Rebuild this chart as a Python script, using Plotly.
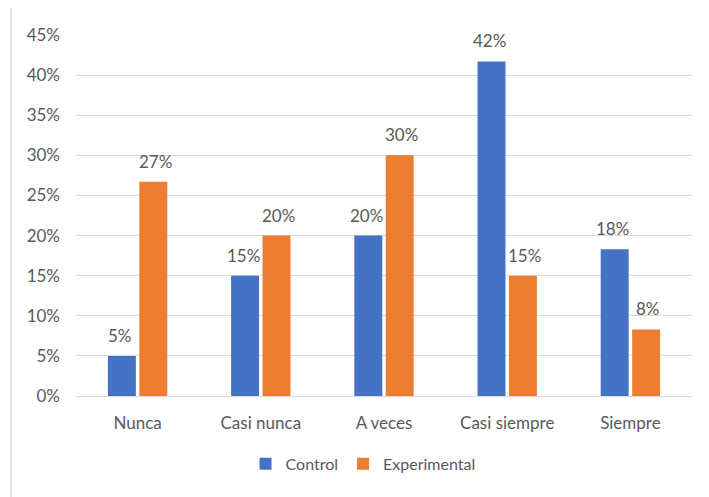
import plotly.graph_objects as go

categories = ["Nunca", "Casi nunca", "A veces", "Casi siempre", "Siempre"]
control = [0.05, 0.15, 0.20, 0.417, 0.183]
experimental = [0.267, 0.20, 0.30, 0.15, 0.083]
series_names = ["Control", "Experimental"]
colors = ["#4472C4", "#ED7D31"]
tick_vals = [0, 0.05, 0.10, 0.15, 0.20, 0.25, 0.30, 0.35, 0.40, 0.45]

FONT = "Lato, 'Open Sans', sans-serif"
GRAY = "#595959"
FS = 17

fig = go.Figure()
for name, vals, col in zip(series_names, [control, experimental], colors):
    fig.add_trace(go.Bar(x=categories, y=vals, name=name, marker=dict(color=col, line=dict(width=0))))

annotations = []
for vals, shift in [(control, -17.5), (experimental, 17.5)]:
    for c, v in zip(categories, vals):
        annotations.append(dict(x=c, y=v, xref="x", yref="y", text=f"{round(v*100):.0f}%",
                                showarrow=False, xshift=shift, yshift=8, yanchor="bottom",
                                font=dict(family=FONT, size=FS, color=GRAY)))

fig.update_layout(
    width=701, height=489,
    margin=dict(l=68, r=17, t=27, b=101),
    paper_bgcolor="white", plot_bgcolor="white",
    barmode="group", bargap=0.49, bargroupgap=0.11,
    font=dict(family=FONT, size=FS, color=GRAY),
    showlegend=True,
    legend=dict(orientation="h", x=0.466, xanchor="center", y=-0.188, yanchor="middle",
                font=dict(family=FONT, size=16, color=GRAY), itemwidth=30, traceorder="normal"),
    annotations=annotations,
    shapes=[dict(type="rect", xref="paper", yref="paper", x0=-0.1055, x1=1.06, y0=-0.33, y1=1.080,
                 line=dict(color="#D9D9D9", width=1.5), fillcolor="rgba(0,0,0,0)", layer="below")],
)
fig.update_yaxes(range=[0, 0.45], tickvals=tick_vals, tickformat=".0%", showgrid=True,
                 gridcolor="#D9D9D9", gridwidth=1, zeroline=False, showline=False,
                 ticks="", ticklabelstandoff=15, tickfont=dict(family=FONT, size=FS, color=GRAY))
fig.update_xaxes(showgrid=False, showline=True, linecolor="#D9D9D9", linewidth=1, ticks="",
                 ticklabelstandoff=12, tickfont=dict(family=FONT, size=FS, color=GRAY))

fig.write_html("out.html")
